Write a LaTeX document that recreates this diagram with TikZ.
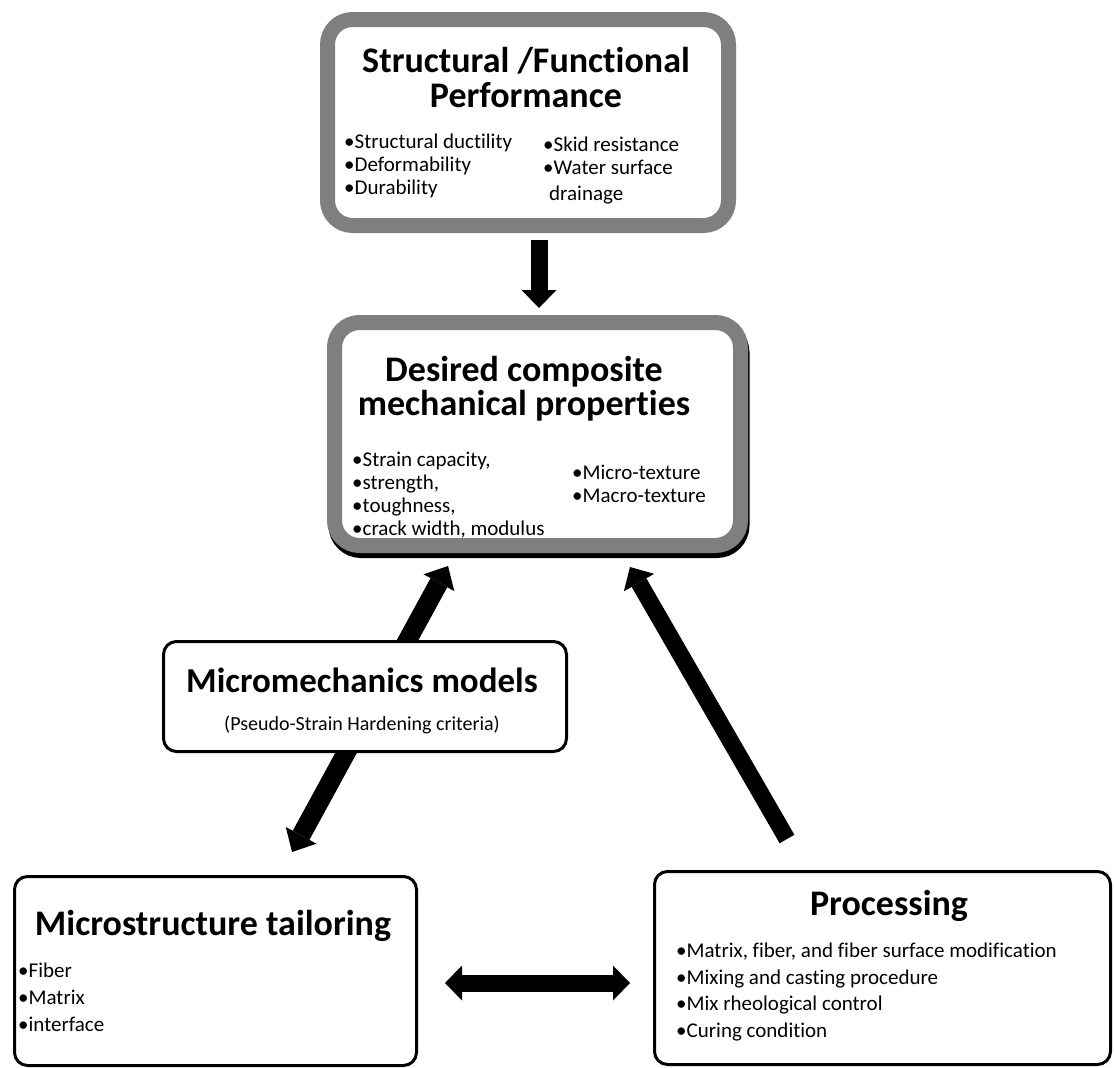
\documentclass[tikz,border=0pt]{standalone}
\usepackage{fontspec}
\setmainfont{Carlito}[Ligatures={NoCommon}]
\usetikzlibrary{arrows.meta}
\definecolor{boxgray}{RGB}{127,127,127}
\begin{document}
\begin{tikzpicture}[x=1pt,y=-1pt,
  graybox/.style={draw=boxgray, line width=15pt, fill=white, rounded corners=25pt, inner sep=0pt},
  shadowbox/.style={draw=black, line width=15pt, fill=black, rounded corners=25pt, inner sep=0pt},
  blackbox/.style={draw=black, line width=3pt, fill=white, rounded corners=13pt, inner sep=0pt},
  ttl/.style={font=\fontsize{36}{36}\selectfont\bfseries, inner sep=0pt, anchor=base},
  sub/.style={font=\fontsize{20}{20}\selectfont, inner sep=0pt, anchor=base},
  itm/.style={font=\fontsize{21}{21}\selectfont, inner sep=0pt, anchor=base west},
  bigarrow/.style={line width=17pt, line cap=butt, -{Triangle[length=18pt,width=35pt,line width=0pt]}},
  dblarrow/.style={line width=17pt, line cap=butt, {Triangle[length=17pt,width=35pt,line width=0pt]}-{Triangle[length=17pt,width=35pt,line width=0pt]}},
]
\useasboundingbox (0,0) rectangle (1114,1068);
\fill[white] (0,0) rectangle (1114,1068);

% ---- top box
\node[graybox, minimum width=401pt, minimum height=206pt] (perf) at (528,122.5) {};
\node[ttl] (t1a) at (526,72) {Structural /Functional};
\node[ttl] (t1b) at (526,107) {Performance};
\node[itm] (p1) at (344,148) {•Structural ductility};
\node[itm] (p2) at (344,171) {•Deformability};
\node[itm] (p3) at (344,194) {•Durability};
\node[itm] (p4) at (543,151) {•Skid resistance};
\node[itm] (p5) at (543,174) {•Water surface};
\node[itm] (p6) at (549,200) {drainage};

% ---- second box
\node[shadowbox, minimum width=406pt, minimum height=223pt] (propsh) at (539,439) {};
\node[graybox, minimum width=406pt, minimum height=223pt] (prop) at (537.5,434) {};
\node[ttl] (t2a) at (524,381) {Desired composite};
\node[ttl] (t2b) at (524,415) {mechanical properties};
\node[itm] (q1) at (352,466) {•Strain capacity,};
\node[itm] (q2) at (352,489) {•strength,};
\node[itm] (q3) at (352,512) {•toughness,};
\node[itm] (q4) at (352,535) {•crack width, modulus};
\node[itm] (q5) at (572,479) {•Micro-texture};
\node[itm] (q6) at (572,502) {•Macro-texture};

% ---- arrow endpoints
\coordinate (a1s) at (539,240);
\coordinate (a1e) at (539,308);
\coordinate (a2s) at (292,852);
\coordinate (a2e) at (448,566);
\coordinate (a3s) at (787,839);
\coordinate (a3e) at (630,567);
\coordinate (a4s) at (445,983);
\coordinate (a4e) at (630,983);

\draw[bigarrow] (a1s) -- (a1e);
\draw[dblarrow, {Triangle[length=19pt,width=35pt,line width=0pt]}-{Triangle[length=19pt,width=35pt,line width=0pt]}, line width=19pt] (a2s) -- (a2e);
\draw[bigarrow] (a3s) -- (a3e);
\draw[dblarrow] (a4s) -- (a4e);

% ---- micromechanics box
\node[blackbox, minimum width=403pt, minimum height=110pt] (micro) at (365,696.5) {};
\node[ttl, font=\fontsize{35}{35}\selectfont\bfseries] (t3) at (362,692) {Micromechanics models};
\node[sub] (t3s) at (362,730) {(Pseudo-Strain Hardening criteria)};

% ---- microstructure box
\node[blackbox, minimum width=402pt, minimum height=189pt] (tail) at (215.5,971) {};
\node[ttl] (t4) at (213,935) {Microstructure tailoring};
\node[itm] (m1) at (18,977) {•Fiber};
\node[itm] (m2) at (18,1004) {•Matrix};
\node[itm] (m3) at (18,1031) {•interface};

% ---- processing box
\node[blackbox, minimum width=456pt, minimum height=193pt] (proc) at (882.5,968) {};
\node[ttl] (t5) at (889,915) {Processing};
\node[itm] (r1) at (676,957) {•Matrix, fiber, and fiber surface modification};
\node[itm] (r2) at (676,984) {•Mixing and casting procedure};
\node[itm] (r3) at (676,1010) {•Mix rheological control};
\node[itm] (r4) at (676,1037) {•Curing condition};
\end{tikzpicture}
\end{document}
